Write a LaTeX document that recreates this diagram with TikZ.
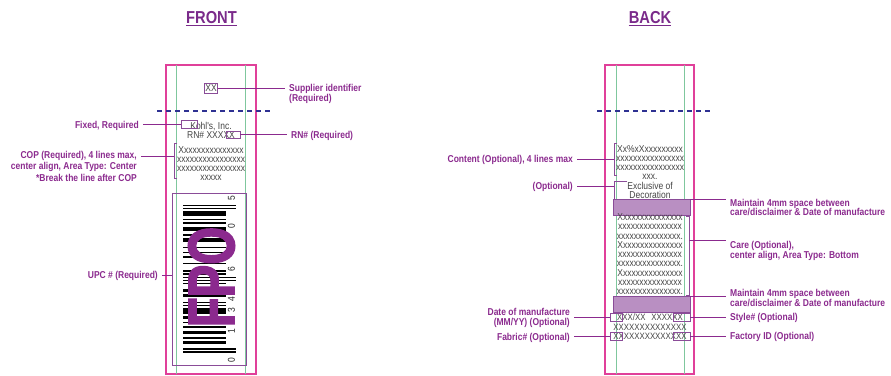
\documentclass[tikz,border=0pt]{standalone}
\usepackage{fontspec}
\setmainfont{Liberation Sans}
\newfontfamily\condfont[FakeStretch=0.85]{Liberation Sans}
\newfontfamily\fpofont[FakeStretch=0.74,FakeBold=2]{Liberation Sans}
\usepackage{tikz}
\usetikzlibrary{calc}
\definecolor{framepink}{HTML}{E0409A}
\definecolor{guidegreen}{HTML}{7FC79D}
\definecolor{foldnavy}{HTML}{2E3192}
\definecolor{plum}{HTML}{8B2A8E}
\definecolor{headplum}{HTML}{7A2A8A}
\definecolor{tagplum}{HTML}{8A4C98}
\definecolor{bandlilac}{HTML}{B98FC2}
\definecolor{copygray}{HTML}{444444}

\begin{document}
\begin{tikzpicture}[x=1pt,y=-1pt,
  outline/.style={draw=framepink,line width=1.8pt},
  guideline/.style={draw=guidegreen,line width=0.8pt},
  foldline/.style={draw=foldnavy,line width=1.8pt,dash pattern=on 5pt off 4pt},
  lead/.style={draw=plum,line width=0.8pt},
  bracket/.style={draw=tagplum,line width=0.7pt},
  tagbox/.style={draw=tagplum,line width=0.7pt,inner sep=0pt},
  band/.style={draw=tagplum,fill=bandlilac,line width=0.6pt,inner sep=0pt},
  lbl/.style={text=plum,font=\condfont\bfseries\fontsize{10}{10.5}\selectfont,inner xsep=4pt,inner ysep=0pt},
  tight/.style={font=\condfont\bfseries\fontsize{10}{9.5}\selectfont},
  copytext/.style={text=copygray,font=\condfont\fontsize{10}{9}\selectfont,align=center,inner sep=0pt},
  heading/.style={text=headplum,font=\condfont\bfseries\fontsize{17.3}{18}\selectfont,inner sep=0pt},
  uline/.style={draw=headplum,line width=1.4pt},
  digit/.style={text=black!85,font=\condfont\fontsize{10}{10}\selectfont,rotate=90,inner sep=0pt},
  fpo/.style={text=plum,font=\fpofont\bfseries\fontsize{66}{66}\selectfont,rotate=90,inner sep=0pt}]
  \useasboundingbox (0,0) rectangle (891,375);

  % titles
  \node[heading,anchor=base] (ftitle) at (211.5,23) {FRONT};
  \node[heading,anchor=base] (btitle) at (650,23) {BACK};
  \draw[uline] ([yshift=-2.4pt]ftitle.base west) -- ([yshift=-2.4pt]ftitle.base east);
  \draw[uline] ([yshift=-2.4pt]btitle.base west) -- ([yshift=-2.4pt]btitle.base east);

  % label outlines, guides and fold
  \draw[outline] (166,65) rectangle (256,374);
  \draw[outline] (605,65) rectangle (694,374);
  \foreach \x in {176,245,616,684}
    { \draw[guideline] (\x,65) -- (\x,374); }
  \draw[foldline] (157,111) -- (270,111);
  \draw[foldline] (597,111) -- (710,111);

  % front (multi-line blocks sit on their last baseline)
  \node[tagbox,text=copygray,font=\condfont\fontsize{10}{9}\selectfont,inner xsep=0.6pt,minimum height=10pt] (sup) at (211,88) {XX};
  \node[copytext,anchor=base] (kohl) at (211,138) {Kohl's, Inc.\\RN\# XXXXX};
  \node[tagbox,minimum width=16pt,minimum height=8pt] (kbox) at (189,124.5) {};
  \node[tagbox,minimum width=14pt,minimum height=7pt] (rnbox) at (233,134.5) {};
  \node[copytext,anchor=base] (cop) at (211,180.5) {Xxxxxxxxxxxxxxx\\xxxxxxxxxxxxxxxx\\xxxxxxxxxxxxxxxx\\xxxxx};
  \draw[bracket] (177,143) -- (174,143) -- (174,178) -- (177,178);
  \coordinate (copbr) at (174,156);

  % barcode
  \node[tagbox,minimum width=74pt,minimum height=172pt] (upc) at (209,279) {};
  \foreach \s/\l in {6/2,9/1,12/2,16/1,19/1,22/2,25/4,30/1,32/1,36/2,39/2,44/1,
                     50/1,52/1,57/1,61/1,64/1,67/1,71/3,75/1,78/3,83/1,85/1,88/3}
    { \fill (183,{353-\s*1.56}) rectangle (226,{353-(\s+\l)*1.56}); }
  \foreach \s in {0,2,46,48,92,94}
    { \fill (183,{353-\s*1.56}) rectangle (236,{353-(\s+1)*1.56}); }
  \foreach \y/\d [count=\i] in {360/0,331/1,310/3,299/4,269.5/6,226/0,198/5}
    { \node[digit] (dg\i) at (231.5,\y) {\d}; }
  \node[fpo] (fpo) at (211.5,277) {FPO};

  % front callouts
  \node[lbl,align=left,anchor=base west] (suplbl) at (285,101.9) {Supplier identifier\\(Required)};
  \node[lbl,anchor=base east] (fixlbl) at (143,128) {Fixed, Required};
  \node[lbl,anchor=base west] (rnlbl) at (287,138) {RN\# (Required)};
  \node[lbl,align=right,anchor=base east,font=\condfont\bfseries\fontsize{10}{11.5}\selectfont] (coplbl) at (141,181)
    {COP (Required), 4 lines max,\\center align, Area Type: Center\\*Break the line after COP};
  \node[lbl,anchor=base east] (upclbl) at (162,278) {UPC \# (Required)};
  \draw[lead] (sup.east) -- (sup.east -| suplbl.west);
  \draw[lead] (kbox.west -| fixlbl.east) -- (kbox.west);
  \draw[lead] (rnbox.east) -- (rnbox.east -| rnlbl.west);
  \draw[lead] (copbr -| coplbl.east) -- (copbr);
  \draw[lead] (upclbl.east) -- (upclbl.east -| upc.west);

  % back
  \node[copytext,anchor=base] (content) at (650,179.5) {Xx\%xXxxxxxxxxx\\xxxxxxxxxxxxxxxx\\xxxxxxxxxxxxxxxx\\xxx.};
  \draw[bracket] (617,143) -- (614,143) -- (614,175) -- (617,175);
  \coordinate (conbr) at (614,159);
  \node[copytext,anchor=base] (excl) at (650,198) {Exclusive of\\Decoration};
  \draw[bracket] (627,181) -- (614,181) -- (614,199);
  \coordinate (optbr) at (614,186);
  \node[band,minimum width=77pt,minimum height=16.5pt] (gap1) at (651.5,207.25) {};
  \node[copytext,anchor=base,font=\condfont\fontsize{10}{9.25}\selectfont] (care) at (650,294.5)
    {Xxxxxxxxxxxxxxx\\xxxxxxxxxxxxxxx\\xxxxxxxxxxxxxxx.\\Xxxxxxxxxxxxxxx\\xxxxxxxxxxxxxxx\\xxxxxxxxxxxxxxx.\\Xxxxxxxxxxxxxxx\\xxxxxxxxxxxxxxx\\xxxxxxxxxxxxxxx.};
  \draw[bracket] (686,216) -- (689,216) -- (689,295) -- (686,295);
  \coordinate (carebr) at (689,240);
  \node[band,minimum width=77pt,minimum height=16.5pt] (gap2) at (651.5,304.25) {};
  \node[copytext,anchor=base,font=\condfont\fontsize{9.2}{9.5}\selectfont] (mfg) at (650,339.5)
    {XXX/XX\hspace{6pt}XXXXXX\\XXXXXXXXXXXXXX\\XXXXXXXXXXXXXX};
  \node[tagbox,minimum width=12pt,minimum height=8pt] (datebox) at (616,317.5) {};
  \node[tagbox,minimum width=17pt,minimum height=8pt] (stybox) at (681.5,317.5) {};
  \node[tagbox,minimum width=12pt,minimum height=8pt] (fabbox) at (616,336.5) {};
  \node[tagbox,minimum width=17pt,minimum height=8pt] (facbox) at (681.5,336.5) {};

  % back callouts
  \node[lbl,anchor=base east] (conlbl) at (577,162.4) {Content (Optional), 4 lines max};
  \node[lbl,anchor=base east] (optlbl) at (577,189.4) {(Optional)};
  \node[lbl,tight,align=left,anchor=base west] (gaplbl1) at (726,215.5) {Maintain 4mm space between\\care/disclaimer \& Date of manufacture};
  \node[lbl,align=left,anchor=base west,font=\condfont\bfseries\fontsize{10}{10}\selectfont] (carelbl) at (726,258.4) {Care (Optional),\\center align, Area Type: Bottom};
  \node[lbl,tight,align=left,anchor=base west] (gaplbl2) at (726,306) {Maintain 4mm space between\\care/disclaimer \& Date of manufacture};
  \node[lbl,anchor=base west] (stylbl) at (726,320.4) {Style\# (Optional)};
  \node[lbl,anchor=base west] (faclbl) at (726,339.5) {Factory ID (Optional)};
  \node[lbl,align=right,anchor=base east] (datelbl) at (574,325.9) {Date of manufacture\\(MM/YY) (Optional)};
  \node[lbl,anchor=base east] (fablbl) at (574,340.5) {Fabric\# (Optional)};
  \draw[lead] (conbr -| conlbl.east) -- (conbr);
  \draw[lead] (optbr -| optlbl.east) -- (optbr);
  \draw[lead] ([yshift=-1pt]gap1.north east) -- ([yshift=-1pt]gap1.north east -| gaplbl1.west);
  \draw[lead] (carebr) -- (carebr -| carelbl.west);
  \draw[lead] ([yshift=-1pt]gap2.north east) -- ([yshift=-1pt]gap2.north east -| gaplbl2.west);
  \draw[lead] (stybox.east) -- (stybox.east -| stylbl.west);
  \draw[lead] (facbox.east) -- (facbox.east -| faclbl.west);
  \draw[lead] (datebox.west -| datelbl.east) -- (datebox.west);
  \draw[lead] (fabbox.west -| fablbl.east) -- (fabbox.west);
\end{tikzpicture}
\end{document}
